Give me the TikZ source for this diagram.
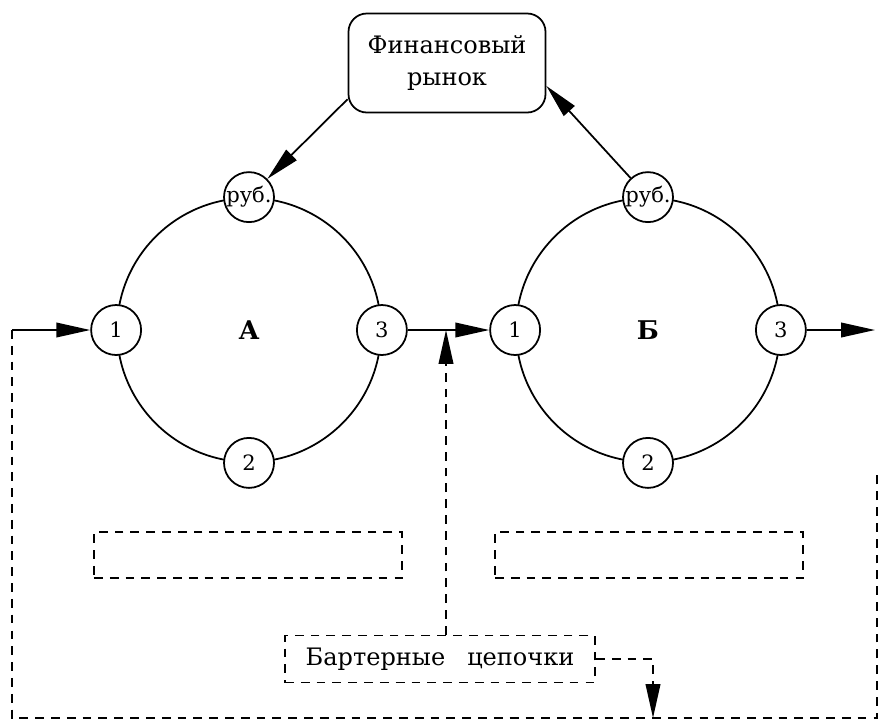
\documentclass[tikz,border=0pt]{standalone}
\usepackage{fontspec}
\setmainfont{DejaVu Serif}
\usetikzlibrary{positioning,arrows.meta,calc}

\begin{document}
\begin{tikzpicture}[
  x=0.03cm, y=-0.03cm,
  ring/.style={draw, circle, line width=1.5pt, minimum size=7.92cm, inner sep=0pt, font=\fontsize{22}{26}\selectfont\bfseries},
  pt/.style={draw, circle, fill=white, line width=1.5pt, minimum size=1.5cm, inner sep=0pt, font=\fontsize{18}{20}\selectfont},
  market/.style={draw, rounded corners=0.55cm, line width=1.5pt, align=center, minimum width=5.91cm, minimum height=2.97cm, font=\fontsize{20.5}{28}\selectfont},
  dbox/.style={draw, line width=1.6pt, dash pattern=on 7.5pt off 6pt, minimum width=9.24cm, minimum height=1.38cm},
  arrow/.style={-{Triangle[length=29pt,width=12.5pt]}, line width=1.5pt},
  dline/.style={line width=1.6pt, dash pattern=on 7.5pt off 6pt},
  darrow/.style={dline, -{Triangle[length=29pt,width=12.5pt]}}
]
\useasboundingbox (0,0) rectangle (878,722);

\node[market] (fin) at (447,63) {Финансовый\\рынок};

\node[ring] (A) at (249,330) {А};
\node[ring] (B) at (648,330) {Б};
\node[pt] (a1) at (A.west) {1};
\node[pt] (a3) at (A.east) {3};
\node[pt] (arub) at (A.north) {руб.};
\node[pt] (a2) at (A.south) {2};
\node[pt] (b1) at (B.west) {1};
\node[pt] (b3) at (B.east) {3};
\node[pt] (brub) at (B.north) {руб.};
\node[pt] (b2) at (B.south) {2};

\node[dbox] (boxA) at (248,555) {};
\node[dbox] (boxB) at (649,555) {};
\node[dbox, minimum width=9.3cm, minimum height=1.41cm, font=\fontsize{20.5}{24}\selectfont] (barter) at (440,659) {Бартерные\hspace{0.6em} цепочки};

\coordinate (in) at (12,330);
\coordinate (out) at (875,330);
\coordinate (loopl) at (12,718);
\coordinate (loopr) at (877,718);
\coordinate (loopend) at (877,473);
\coordinate (drop) at (653,718);
\coordinate (join) at (446,330);

\draw[arrow] (fin.200) -- (arub);
\draw[arrow] (brub) -- (fin.-13);
\draw[arrow] (in) -- (a1);
\draw[arrow] (a3) -- (b1);
\draw[arrow] (b3) -- (out);

\draw[darrow] (barter.north -| join) -- (join);
\draw[darrow] (barter.east) -| (drop);
\draw[dline] (in) -- (loopl) -- (loopr) -- (loopend);
\end{tikzpicture}
\end{document}
